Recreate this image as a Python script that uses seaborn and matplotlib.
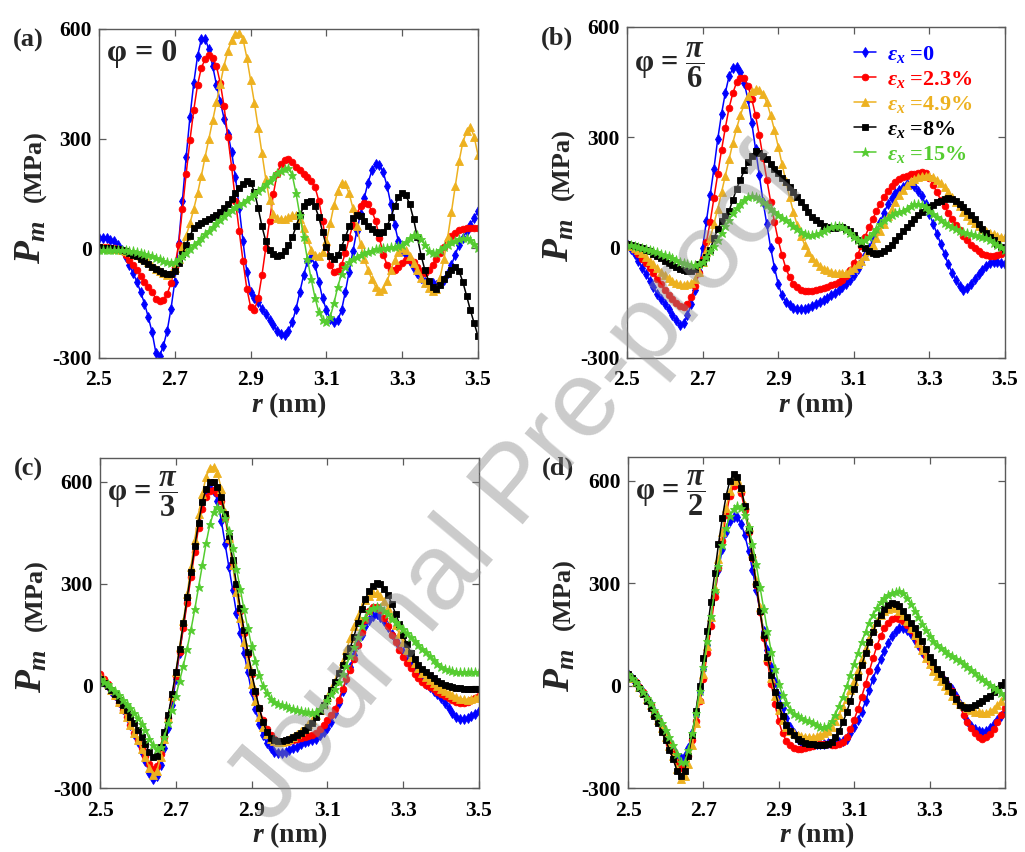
import numpy as np
import matplotlib
matplotlib.use("Agg")
import matplotlib.pyplot as plt
import seaborn as sns

sns.set_style("ticks")
plt.rcParams["font.family"] = ["Liberation Serif", "DejaVu Serif"]
plt.rcParams["font.weight"] = "bold"
plt.rcParams["mathtext.fontset"] = "custom"
plt.rcParams["mathtext.rm"] = "Liberation Serif:bold"
plt.rcParams["mathtext.it"] = "Liberation Serif:italic:bold"
plt.rcParams["mathtext.bf"] = "Liberation Serif:bold"

# radial distance r (nm), sampled every 0.01 nm
r = np.round(np.linspace(2.5, 3.5, 101), 2)

strain_labels = [r"$\varepsilon_x$ =0", r"$\varepsilon_x$ =2.3%", r"$\varepsilon_x$ =4.9%",
                 r"$\varepsilon_x$ =8%", r"$\varepsilon_x$ =15%"]
series_colors = ["#0000FF", "#FF0000", "#EDB120", "#000000", "#55CC30"]
series_markers = ["d", "o", "^", "s", "*"]
series_msize = [5.2, 4.8, 5.4, 4.3, 6.8]

panel_tags = ["(a)", "(b)", "(c)", "(d)"]
angle_texts = ["φ = 0", r"φ = $\dfrac{\pi}{6}$", r"φ = $\dfrac{\pi}{3}$", r"φ = $\dfrac{\pi}{2}$"]
x_ticks = [2.5, 2.7, 2.9, 3.1, 3.3, 3.5]
y_ticks = [-300, 0, 300, 600]

# ---- phi = 0 ----
a_blue = [28, 28, 27, 23, 19, 8, -4, -24, -45, -68,
          -91, -120, -151, -188, -229, -285, -294, -266, -225, -165,
          -91, 15, 130, 250, 360, 452, 526, 572, 574, 544,
          498, 447, 401, 355, 314, 263, 194, 111, 19, -64,
          -119, -137, -146, -165, -179, -197, -211, -225, -234, -236,
          -225, -202, -165, -119, -73, -36, -25, -45, -91, -137,
          -169, -192, -202, -197, -169, -119, -64, -8, 47, 93,
          139, 180, 213, 231, 229, 208, 171, 121, 65, 19,
          -4, -17, -36, -54, -68, -82, -91, -96, -96, -100,
          -96, -87, -68, -45, -17, 10, 28, 47, 65, 84,
          102]
a_red = [5, 4, 3, 2, 1, -3, -8, -18, -31, -45,
         -59, -75, -91, -106, -119, -138, -145, -140, -125, -95,
         -50, 10, 107, 204, 296, 378, 447, 494, 517, 530,
         521, 498, 452, 388, 305, 222, 130, 47, -36, -110,
         -160, -168, -137, -73, 1, 75, 148, 204, 231, 242,
         245, 236, 222, 213, 204, 194, 185, 167, 130, 75,
         10, -45, -64, -62, -45, -13, 28, 65, 93, 116,
         125, 121, 102, 75, 28, -17, -45, -58, -60, -52,
         -40, -32, -31, -38, -50, -62, -68, -60, -45, -28,
         -12, 4, 19, 33, 42, 49, 53, 56, 56, 56,
         56]
a_orange = [0, 0, 0, -1, -2, -3, -5, -7, -10, -13,
            -17, -22, -30, -38, -47, -56, -63, -68, -72, -68,
            -55, -28, 5, 35, 68, 108, 150, 198, 250, 300,
            350, 400, 450, 500, 540, 570, 585, 590, 572, 522,
            460, 398, 330, 260, 190, 132, 95, 83, 79, 80,
            85, 90, 90, 80, 55, 25, -5, -18, -20, -10,
            20, 68, 118, 158, 180, 175, 150, 110, 60, 12,
            -28, -60, -85, -105, -117, -110, -90, -60, -32, -10,
            0, -5, -20, -40, -60, -80, -96, -108, -116, -110,
            -80, -30, 30, 100, 170, 238, 290, 320, 332, 305,
            255]
a_black = [3, 2, 1, 0, -2, -3, -5, -8, -12, -17,
           -22, -28, -35, -42, -50, -56, -62, -67, -70, -70,
           -62, -40, -15, 10, 35, 55, 65, 70, 75, 80,
           85, 90, 100, 110, 120, 135, 150, 165, 175, 185,
           180, 155, 110, 60, 20, -5, -15, -20, -18, -8,
           8, 30, 60, 90, 115, 128, 130, 115, 85, 45,
           5, -20, -28, -18, 5, 30, 60, 82, 92, 88,
           75, 62, 52, 45, 42, 45, 60, 85, 115, 140,
           150, 145, 120, 80, 30, -20, -60, -90, -105, -112,
           -100, -85, -70, -58, -52, -62, -92, -130, -170, -205,
           -240]
a_green = [-5, -4, -4, -4, -4, -4, -5, -5, -6, -8,
           -10, -12, -15, -18, -22, -26, -30, -34, -38, -40,
           -38, -30, -22, -12, -2, 8, 18, 28, 38, 48,
           58, 68, 78, 88, 97, 105, 112, 118, 125, 132,
           140, 148, 157, 166, 175, 185, 195, 205, 212, 218,
           220, 200, 150, 90, 30, -30, -85, -135, -175, -195,
           -202, -188, -150, -105, -70, -50, -38, -30, -24, -18,
           -13, -9, -6, -3, -1, 1, 2, 3, 4, 6,
           10, 18, 28, 36, 36, 25, 8, -6, -13, -12,
           -5, 3, 10, 16, 21, 25, 27, 27, 22, 12,
           2]

# ---- phi = pi/6 ----
b_blue = [9, -4, -18, -36, -54, -72, -90, -108, -125, -139,
          -152, -168, -184, -198, -210, -206, -184, -152, -116, -63,
          0, 72, 143, 215, 295, 363, 421, 466, 488, 492,
          479, 448, 403, 340, 269, 197, 125, 63, 0, -54,
          -98, -130, -148, -157, -163, -166, -167, -166, -163, -158,
          -153, -148, -142, -136, -130, -123, -115, -107, -98, -88,
          -75, -58, -40, -20, 0, 20, 45, 70, 95, 118,
          135, 148, 158, 166, 172, 174, 168, 155, 140, 118,
          92, 65, 38, 10, -18, -45, -68, -88, -105, -115,
          -110, -98, -85, -72, -60, -50, -42, -40, -40, -42,
          -45]
b_red = [10, 3, -5, -17, -30, -42, -55, -70, -85, -100,
         -115, -128, -140, -150, -158, -160, -152, -135, -105, -70,
         -30, 15, 70, 135, 200, 265, 325, 380, 420, 450,
         462, 460, 440, 405, 360, 305, 245, 185, 125, 70,
         20, -20, -55, -80, -98, -108, -114, -117, -118, -118,
         -116, -113, -110, -106, -102, -98, -94, -88, -78, -62,
         -42, -20, 5, 30, 55, 78, 100, 120, 138, 155,
         168, 178, 186, 192, 196, 199, 201, 203, 205, 204,
         190, 170, 150, 130, 112, 95, 78, 62, 47, 33,
         20, 8, -2, -10, -16, -20, -22, -22, -20, -17,
         -13]
b_orange = [10, 5, 0, -7, -15, -25, -35, -45, -55, -65,
            -75, -83, -90, -95, -99, -101, -100, -96, -85, -65,
            -40, -10, 25, 65, 105, 150, 195, 240, 285, 325,
            360, 390, 412, 425, 431, 430, 418, 395, 360, 320,
            275, 228, 182, 138, 98, 62, 32, 8, -12, -28,
            -40, -50, -57, -62, -66, -68, -70, -70, -68, -62,
            -55, -45, -35, -22, -8, 8, 25, 45, 65, 85,
            105, 125, 142, 158, 170, 180, 187, 192, 195, 196,
            196, 192, 185, 176, 165, 152, 139, 125, 112, 98,
            86, 75, 66, 58, 51, 45, 40, 36, 33, 30,
            28]
b_black = [10, 8, 5, 3, 0, -5, -10, -16, -22, -28,
           -35, -42, -48, -53, -58, -61, -63, -63, -58, -45,
           -40, -25, -5, 25, 50, 72, 85, 100, 130, 160,
           185, 210, 232, 250, 262, 258, 250, 240, 228, 215,
           202, 190, 178, 165, 152, 138, 124, 110, 96, 84,
           74, 66, 60, 56, 54, 54, 55, 55, 52, 44,
           34, 22, 10, -2, -10, -15, -17, -15, -10, -2,
           8, 20, 32, 44, 56, 68, 78, 88, 96, 104,
           110, 117, 123, 128, 132, 134, 133, 128, 120, 110,
           100, 90, 78, 65, 52, 40, 30, 20, 10, 2,
           -5]
b_green = [8, 7, 5, 3, 0, -3, -5, -8, -12, -16,
           -20, -24, -28, -33, -38, -42, -45, -48, -48, -45,
           -38, -25, -10, 5, 22, 40, 58, 76, 93, 108,
           120, 130, 137, 140, 138, 132, 124, 115, 106, 98,
           90, 82, 74, 66, 58, 50, 43, 38, 35, 34,
           36, 40, 45, 50, 55, 58, 58, 55, 48, 40,
           30, 22, 18, 20, 28, 40, 52, 64, 74, 82,
           88, 93, 97, 101, 106, 112, 118, 120, 117, 110,
           100, 92, 84, 76, 68, 61, 55, 50, 46, 42,
           39, 36, 34, 32, 29, 25, 20, 14, 8, 2,
           -5]

# ---- phi = pi/3 ----
c_blue = [25, 12, 0, -14, -28, -47, -67, -90, -115, -140,
          -164, -193, -222, -256, -275, -266, -232, -183, -125, -57,
          20, 98, 176, 253, 331, 409, 482, 540, 574, 583,
          574, 545, 486, 418, 350, 283, 215, 156, 98, 40,
          -18, -67, -111, -145, -169, -183, -193, -198, -198, -193,
          -188, -183, -179, -172, -166, -162, -159, -155, -145, -135,
          -125, -105, -80, -50, -15, 20, 55, 90, 122, 150,
          175, 193, 205, 210, 204, 190, 172, 152, 135, 118,
          100, 82, 65, 48, 32, 18, 6, -4, -14, -24,
          -36, -50, -65, -80, -91, -96, -96, -94, -88, -82,
          -75]
c_red = [35, 20, 5, -12, -30, -50, -70, -92, -115, -138,
         -160, -182, -205, -230, -245, -235, -200, -150, -95, -35,
         30, 100, 170, 245, 320, 395, 465, 520, 555, 572,
         576, 568, 545, 495, 430, 360, 290, 220, 155, 95,
         35, -20, -65, -100, -127, -145, -156, -162, -165, -165,
         -163, -160, -157, -154, -151, -148, -145, -138, -128, -115,
         -100, -85, -67, -40, -10, 20, 48, 80, 120, 160,
         195, 220, 232, 233, 222, 200, 175, 150, 128, 107,
         85, 68, 52, 36, 22, 12, 4, -3, -10, -17,
         -24, -30, -36, -42, -47, -50, -50, -47, -42, -36,
         -30]
c_orange = [30, 18, 5, -12, -28, -48, -68, -92, -115, -138,
            -160, -185, -210, -240, -262, -250, -210, -155, -95, -30,
            40, 115, 190, 270, 350, 430, 505, 565, 615, 640,
            645, 625, 580, 510, 435, 355, 275, 200, 130, 65,
            5, -45, -90, -120, -142, -155, -162, -165, -165, -162,
            -157, -150, -142, -133, -123, -112, -100, -86, -70, -52,
            -32, -10, 15, 42, 72, 105, 140, 175, 205, 232,
            252, 265, 272, 272, 265, 250, 228, 203, 178, 153,
            128, 105, 85, 68, 52, 38, 26, 16, 8, 0,
            -8, -15, -22, -28, -33, -37, -39, -40, -38, -35,
            -30]
c_black = [20, 10, 0, -12, -25, -40, -55, -72, -90, -110,
           -130, -150, -170, -195, -210, -205, -180, -135, -85, -25,
           40, 110, 185, 260, 335, 410, 480, 540, 580, 598,
           600, 585, 555, 505, 440, 370, 300, 230, 165, 100,
           40, -15, -65, -105, -135, -152, -160, -163, -162, -158,
           -155, -150, -145, -138, -130, -120, -110, -92, -75, -55,
           -35, -12, 12, 38, 62, 88, 112, 145, 185, 225,
           255, 280, 295, 302, 300, 285, 268, 240, 212, 182,
           150, 122, 98, 78, 62, 50, 40, 31, 23, 15,
           9, 4, 0, -3, -5, -7, -8, -9, -9, -9,
           -9]
c_green = [20, 12, 5, -5, -15, -27, -40, -52, -65, -80,
           -95, -112, -130, -155, -175, -185, -180, -150, -110, -70,
           -30, 15, 60, 110, 165, 225, 290, 355, 420, 475,
           510, 525, 518, 495, 455, 405, 345, 285, 225, 170,
           118, 72, 32, 0, -22, -38, -48, -53, -57, -60,
           -64, -67, -70, -73, -76, -78, -79, -76, -68, -55,
           -40, -25, -8, 12, 35, 60, 88, 115, 145, 175,
           200, 220, 230, 232, 228, 220, 210, 198, 188, 177,
           166, 155, 143, 131, 120, 110, 100, 88, 76, 65,
           56, 50, 46, 43, 42, 41, 40, 40, 40, 40,
           40]

# ---- phi = pi/2 ----
d_blue = [35, 22, 10, -5, -20, -37, -55, -75, -95, -117,
          -140, -163, -185, -205, -212, -205, -182, -140, -85, -20,
          50, 120, 195, 270, 340, 400, 450, 482, 495, 495,
          475, 440, 395, 340, 280, 220, 160, 105, 55, 10,
          -30, -65, -95, -120, -140, -155, -165, -170, -172, -172,
          -171, -170, -170, -169, -168, -168, -165, -162, -155, -140,
          -120, -100, -77, -45, -12, 20, 50, 78, 102, 125,
          145, 160, 168, 170, 163, 150, 135, 118, 100, 83,
          66, 52, 40, 28, 15, 2, -10, -30, -55, -85,
          -105, -118, -127, -133, -135, -132, -124, -113, -100, -88,
          -78]
d_red = [35, 22, 10, -5, -20, -38, -58, -78, -100, -122,
         -145, -170, -195, -225, -242, -235, -205, -160, -105, -45,
         20, 95, 175, 260, 345, 425, 500, 555, 585, 590,
         565, 515, 450, 375, 295, 215, 140, 70, 5, -55,
         -105, -140, -162, -175, -182, -185, -185, -183, -180, -176,
         -172, -170, -170, -172, -174, -175, -172, -165, -150, -128,
         -100, -68, -32, 5, 42, 80, 115, 145, 168, 183,
         194, 198, 196, 190, 178, 162, 145, 127, 108, 88,
         70, 55, 40, 28, 15, 0, -17, -35, -58, -85,
         -108, -125, -140, -152, -156, -152, -143, -128, -108, -85,
         -65]
d_orange = [35, 22, 10, -5, -20, -38, -58, -80, -102, -125,
            -150, -177, -205, -245, -275, -265, -230, -175, -110, -40,
            35, 115, 200, 285, 370, 450, 520, 570, 600, 605,
            580, 530, 465, 390, 310, 230, 155, 85, 22, -30,
            -70, -100, -120, -132, -140, -145, -148, -150, -150, -150,
            -148, -145, -140, -132, -120, -105, -85, -62, -38, -12,
            15, 45, 78, 110, 140, 168, 190, 207, 218, 226,
            230, 228, 220, 207, 190, 170, 148, 126, 104, 82,
            62, 44, 28, 14, 0, -12, -30, -43, -53, -61,
            -67, -72, -76, -78, -80, -79, -75, -68, -58, -45,
            -30]
d_black = [35, 22, 8, -8, -25, -45, -65, -88, -110, -135,
           -160, -188, -215, -250, -265, -250, -205, -145, -75, 0,
           80, 160, 245, 330, 415, 490, 555, 600, 620, 612,
           580, 525, 455, 378, 298, 220, 148, 85, 30, -18,
           -58, -90, -115, -133, -146, -155, -162, -167, -170, -172,
           -174, -175, -175, -172, -165, -152, -132, -108, -78, -45,
           -10, 25, 60, 95, 128, 158, 185, 208, 225, 236,
           242, 240, 232, 218, 202, 185, 168, 150, 130, 108,
           85, 68, 50, 33, 16, 0, -20, -40, -56, -64,
           -67, -64, -58, -51, -44, -37, -29, -20, -10, 1,
           12]
d_green = [35, 22, 10, -4, -18, -35, -52, -70, -90, -110,
           -130, -152, -175, -200, -225, -225, -190, -140, -80, -15,
           55, 130, 205, 280, 350, 412, 462, 498, 518, 525,
           520, 500, 465, 415, 355, 290, 225, 160, 100, 48,
           5, -28, -52, -70, -82, -90, -96, -101, -105, -110,
           -115, -120, -122, -118, -105, -85, -60, -32, -2, 30,
           62, 95, 128, 158, 185, 208, 228, 244, 256, 265,
           271, 275, 276, 270, 258, 240, 220, 200, 180, 162,
           146, 132, 120, 110, 101, 93, 86, 79, 72, 64,
           56, 46, 36, 25, 18, 10, 2, -6, -14, -22,
           -30]

panels = [
    [a_blue, a_red, a_orange, a_black, a_green],
    [b_blue, b_red, b_orange, b_black, b_green],
    [c_blue, c_red, c_orange, c_black, c_green],
    [d_blue, d_red, d_orange, d_black, d_green],
]
y_limits = [(-300, 600), (-300, 600), (-300, 670), (-300, 670)]

W, H = 1025, 852
fig = plt.figure(figsize=(W / 100, H / 100), dpi=100)
fig.patch.set_facecolor("white")

# axes boxes in pixels: left, top, right, bottom
boxes = [(99, 29, 478, 358), (627, 27, 1005, 358),
         (100, 458, 479, 788), (628, 457, 1005, 788)]


def fx(x):
    return x / W


def fy(y):
    return 1 - y / H


frame_gray = "#5a5a5a"
for k, (box, series) in enumerate(zip(boxes, panels)):
    L, T, R, B = box
    ax = fig.add_axes([fx(L), fy(B), (R - L) / W, (B - T) / H])
    for vals, lab, col, mk, ms in zip(series, strain_labels, series_colors,
                                      series_markers, series_msize):
        sns.lineplot(x=r, y=vals, ax=ax, color=col, marker=mk, markersize=ms,
                     markeredgecolor=col, markerfacecolor=col, markeredgewidth=0.6,
                     linewidth=1.1, label=lab, legend=False, sort=False,
                     errorbar=None)
    ax.set_xlim(2.5, 3.5)
    ax.set_ylim(*y_limits[k])
    ax.set_xticks(x_ticks)
    ax.set_xticklabels([f"{t:.1f}" for t in x_ticks])
    ax.set_yticks(y_ticks)
    ax.set_yticklabels([str(t) for t in y_ticks])
    for s in ax.spines.values():
        s.set_visible(True)
        s.set_color(frame_gray)
        s.set_linewidth(1.0)
    ax.tick_params(direction="in", length=5, width=0.9, color=frame_gray,
                   top=True, right=True, labelsize=15.5, labelcolor="black")
    ax.tick_params(axis="x", pad=9)
    ax.tick_params(axis="y", pad=5)
    for lbl in ax.get_xticklabels() + ax.get_yticklabels():
        lbl.set_fontweight("bold")
    ax.set_xlabel(r"$r$ (nm)", fontsize=20, fontweight="bold", labelpad=0)
    ax.set_ylabel("")

    # y-axis label: large italic P_m followed by the unit
    mid = (T + B) / 2
    fig.text(fx(L - 58), fy(mid + 70), r"$P_m$", fontsize=27, rotation=90,
             rotation_mode="anchor", ha="left", va="baseline")
    fig.text(fx(L - 58), fy(mid + 8), "(MPa)", fontsize=19, fontweight="bold",
             rotation=90, rotation_mode="anchor", ha="left", va="baseline")

    # panel tag and polarisation angle
    fig.text(fx(L - 86), fy(T + 11), panel_tags[k], fontsize=19,
             fontweight="bold", ha="left", va="center")
    if k == 0:
        ax.text(0.022, 0.925, angle_texts[k], transform=ax.transAxes,
                fontsize=23, fontweight="bold", ha="left", va="center")
    else:
        ax.text(0.018, 0.885 if k == 1 else 0.89, angle_texts[k],
                transform=ax.transAxes, fontsize=22, fontweight="bold",
                ha="left", va="center")

    if k == 1:
        leg = ax.legend(loc="upper left", bbox_to_anchor=(0.6, 0.95),
                        frameon=False, fontsize=16, handlelength=1.0,
                        handletextpad=0.5, labelspacing=0.18,
                        borderaxespad=0, borderpad=0)
        for txt, col in zip(leg.get_texts(), series_colors):
            txt.set_color(col)
            txt.set_fontweight("bold")

# diagonal watermark across the figure
fig.text(0.505, 0.428, "Journal Pre-proof", fontsize=78, family="Liberation Sans",
         fontweight="normal", color="#8c8c8c", alpha=0.45, rotation=50,
         ha="center", va="center", rotation_mode="anchor", zorder=100)

fig.savefig("out.png", dpi=100, facecolor="white")
